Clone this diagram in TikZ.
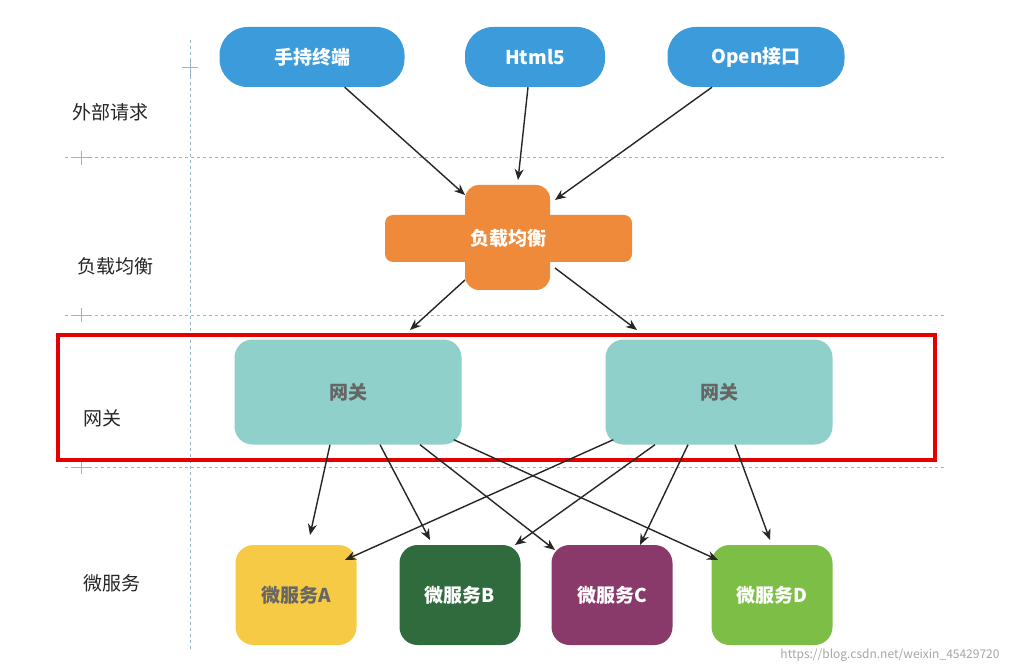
\documentclass[tikz,border=0pt]{standalone}
\usepackage{fontspec}
\setmainfont{Noto Sans CJK SC}
\usetikzlibrary{arrows.meta}
\definecolor{pblue}{HTML}{3C9BDA}
\definecolor{porange}{HTML}{EF8A3A}
\definecolor{pteal}{HTML}{8FD0CB}
\definecolor{pyel}{HTML}{F6CA45}
\definecolor{pdg}{HTML}{2F6B3C}
\definecolor{ppur}{HTML}{8A3A6A}
\definecolor{plg}{HTML}{7DBE47}
\definecolor{gline}{HTML}{9AB4C4}
\tikzset{
 pill/.style={fill=pblue,rounded corners=28pt,minimum width=185pt,minimum height=60pt,text=white,font=\bfseries\fontsize{19}{19}\selectfont},
 gw/.style={fill=pteal,rounded corners=18pt,minimum width=227pt,minimum height=105pt,text=black!60,font=\bfseries\fontsize{19}{19}\selectfont},
 svc/.style={rounded corners=18pt,minimum width=121pt,minimum height=100pt,text=white,font=\bfseries\fontsize{19}{19}\selectfont},
 lab/.style={font=\fontsize{19}{19}\selectfont,text=black!85},
 arr/.style={-{Stealth[length=11pt,width=9pt]},line width=1.4pt,black!85},
 grid/.style={gline,dashed,line width=1pt},
}
\begin{document}
\begin{tikzpicture}[x=1pt,y=-1pt]
\useasboundingbox (0,0) rectangle (1034,671);
\fill[white] (0,0) rectangle (1034,671);
% grid
\draw[grid] (65,158) -- (945,158);
\draw[grid] (65,315) -- (945,315);
\draw[grid] (65,467) -- (945,467);
\draw[grid] (190,40) -- (190,650);
\foreach \yy in {158,315,467}{\draw[gline,line width=1pt] (72,\yy) -- (90,\yy) (81,\yy-7) -- (81,\yy+7);}
\draw[gline,line width=1pt] (182,68) -- (198,68) (190,60) -- (190,76);
% labels
\node[lab] (l1) at (110,112) {外部请求};
\node[lab] (l2) at (115,266) {负载均衡};
\node[lab] (l3) at (102,418) {网关};
\node[lab] (l4) at (112,583) {微服务};
% pills
\node[pill] (p1) at (312,57) {手持终端};
\node[pill,minimum width=140pt] (p2) at (535,57) {Html5};
\node[pill,minimum width=177pt] (p3) at (756,57) {Open接口};
% cross
\fill[porange,rounded corners=8pt] (385,215) rectangle (632,262);
\fill[porange,rounded corners=14pt] (465,185) rectangle (550,290);
\node[text=white,font=\bfseries\fontsize{19}{19}\selectfont] (lb) at (508,238) {负载均衡};
\coordinate (lbt1) at (465,195); \coordinate (lbt2) at (518,180); \coordinate (lbt3) at (555,200);
\coordinate (lbb1) at (465,280); \coordinate (lbb2) at (555,268);
% gateways
\node[gw] (g1) at (348,392) {网关};
\node[gw] (g2) at (719,392) {网关};
\draw[red!90!black,line width=3.5pt] (58,335) rectangle (935,460);
% services
\node[svc,fill=pyel,text=black!60] (sa) at (296,595) {微服务A};
\node[svc,fill=pdg] (sb) at (460,595) {微服务B};
\node[svc,fill=ppur] (sc) at (612,595) {微服务C};
\node[svc,fill=plg] (sd) at (772,595) {微服务D};
% arrows
\draw[arr] (p1.south east) ++(-60,0) -- (lbt1);
\draw[arr] (p2.south) ++(-7,0) -- (lbt2);
\draw[arr] (p3.south) ++(-44,0) -- (lbt3);
\draw[arr] (lbb1) -- (410,330);
\draw[arr] (lbb2) -- (637,330);
\draw[arr] (g1.south) ++(-18,0) -- (310,535);
\draw[arr] (g1.south) ++(32,0) -- (430,540);
\draw[arr] (g1.south) ++(72,0) -- (555,550);
\draw[arr] (g1.south east) ++(-8,-5) -- (718,560);
\draw[arr] (g2.south west) ++(8,-5) -- (345,560);
\draw[arr] (g2.south) ++(-64,0) -- (515,545);
\draw[arr] (g2.south) ++(-31,0) -- (640,545);
\draw[arr] (g2.south) ++(16,0) -- (770,540);
\node[text=black!35,font=\fontsize{12}{12}\selectfont] (wm) at (890,655) {https://blog.csdn.net/weixin\_45429720};
\end{tikzpicture}
\end{document}
